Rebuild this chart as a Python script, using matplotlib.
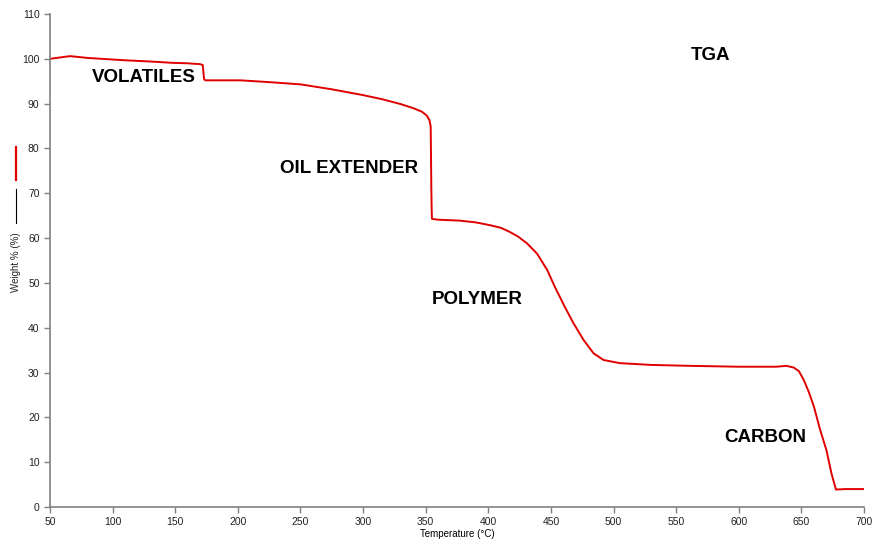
import matplotlib
matplotlib.use('Agg')
import matplotlib.pyplot as plt
from matplotlib.lines import Line2D

# TGA curve
temp = [50, 58, 66, 80, 108, 130, 148, 160, 170, 172, 172.5, 173, 174, 185, 202, 225, 250,
        275, 300, 315, 330, 340, 347, 351, 353, 354, 354.5, 354.8, 355, 360, 377, 390,
        401, 410, 417, 424, 431, 439, 447, 453, 461, 468, 476, 484, 492, 505, 530, 560,
        600, 617, 630, 638, 644, 648, 652, 656, 660, 665, 670, 674, 677.6, 685, 700]
weight = [100.0, 100.3, 100.6, 100.2, 99.7, 99.4, 99.1, 99.0, 98.8, 98.6, 97.0, 95.5, 95.2,
          95.2, 95.2, 94.8, 94.3, 93.2, 91.9, 91.0, 89.9, 89.0, 88.2, 87.3, 86.3, 84.9,
          71.2, 66.0, 64.3, 64.1, 63.9, 63.5, 62.9, 62.3, 61.4, 60.3, 58.8, 56.5, 52.9,
          49.2, 44.7, 41.0, 37.3, 34.3, 32.8, 32.1, 31.7, 31.5, 31.3, 31.3, 31.3, 31.5,
          31.1, 30.3, 28.3, 25.6, 22.4, 17.2, 12.7, 7.5, 3.9, 4.0, 4.0]

xticks = list(range(50, 701, 50))
yticks = list(range(0, 111, 10))

labels = ['VOLATILES', 'OIL EXTENDER', 'POLYMER', 'CARBON', 'TGA']
label_x = [124.6, 288.8, 391.0, 621.3, 577.1]
label_y = [95.9, 75.6, 46.2, 15.6, 100.8]

fig = plt.figure(figsize=(8.75, 5.41), dpi=100)
ax = fig.add_axes([50 / 875, 34 / 541, 814 / 875, 493 / 541])

ax.plot(temp, weight, color='#e00000', linewidth=1.4, solid_joinstyle='round')

for txt, x, y in zip(labels, label_x, label_y):
    ax.text(x, y, txt, ha='center', va='center', fontsize=13.5, fontweight='bold',
            family='Liberation Sans', color='black')

ax.set_xlim(50, 700)
ax.set_ylim(0, 110)
ax.set_xticks(xticks)
ax.set_yticks(yticks)
for sp in ['top', 'right']:
    ax.spines[sp].set_visible(False)
for sp in ['left', 'bottom']:
    ax.spines[sp].set_color('#808080')
    ax.spines[sp].set_linewidth(1.2)
ax.tick_params(direction='out', length=4, width=1, color='#808080',
               labelsize=7.5, labelcolor='#222222')
for lab in ax.get_xticklabels() + ax.get_yticklabels():
    lab.set_family('Liberation Sans')

ax.set_xlabel('Temperature (°C)', fontsize=7, family='Liberation Sans', labelpad=1)

# y label with the little series key drawn beside it
fig.text(16 / 875, 1 - 262 / 541, 'Weight % (%)', rotation=90, ha='center', va='center',
         fontsize=7, family='Liberation Sans', color='#222222')
fig.add_artist(Line2D([16 / 875, 16 / 875], [1 - 223 / 541, 1 - 189 / 541],
                      transform=fig.transFigure, color='black', linewidth=0.8))
fig.add_artist(Line2D([16 / 875, 16 / 875], [1 - 180 / 541, 1 - 147 / 541],
                      transform=fig.transFigure, color='#e00000', linewidth=1.6))

fig.savefig('out.png', dpi=100)
